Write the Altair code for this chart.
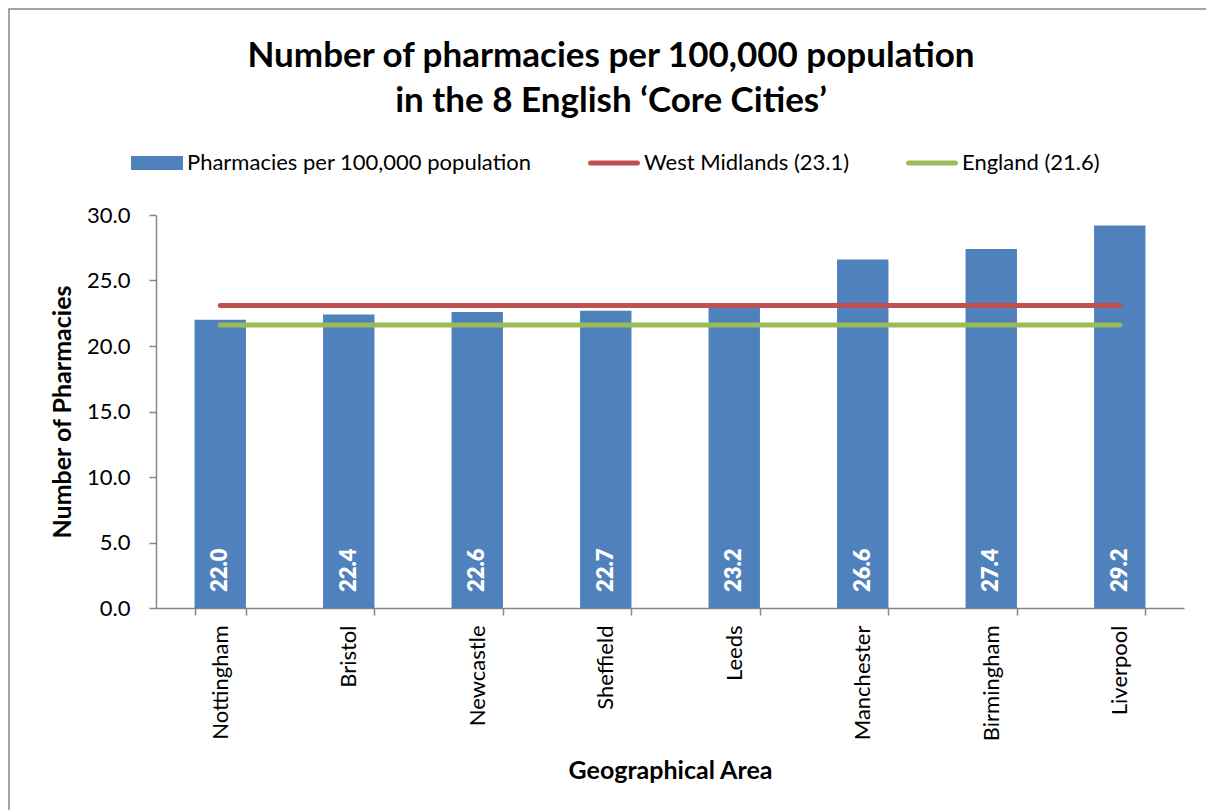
import altair as alt
import pandas as pd

cities = ["Nottingham", "Bristol", "Newcastle", "Sheffield", "Leeds",
          "Manchester", "Birmingham", "Liverpool"]
values = [22.0, 22.4, 22.6, 22.7, 23.2, 26.6, 27.4, 29.2]
west_midlands = 23.1
england = 21.6

series_names = ["Pharmacies per 100,000 population",
                "West Midlands (23.1)", "England (21.6)"]
series_colors = ["#4F81BD", "#C0504D", "#9BBB59"]

bars_df = pd.DataFrame({"city": cities, "value": values})
wm_df = pd.DataFrame({"city": cities, "value": [west_midlands] * len(cities)})
en_df = pd.DataFrame({"city": cities, "value": [england] * len(cities)})
legend_df = pd.DataFrame({"series": series_names})
frame_df = pd.DataFrame({"k": [0]})

FONT = "Lato"
AXIS_GREY = "#868686"
W, H = 1028, 393

x_scale = alt.Scale(domain=cities, paddingInner=0.6, paddingOuter=0.3)
y_scale = alt.Scale(domain=[0, 30])

bar_path = "M-1,-0.27H1V0.27H-1Z"
line_path = "M-0.9,-0.1H0.9A0.1,0.1 0 0 1 0.9,0.1H-0.9A0.1,0.1 0 0 1 -0.9,-0.1Z"


def make_legend():
    return alt.Legend(
        title=None, orient="none", direction="horizontal",
        legendX=-25, legendY=-78, padding=0,
        symbolSize=2704, columnPadding=56, labelOffset=4, labelLimit=500,
        labelFont=FONT, labelFontSize=22, labelColor="black",
        symbolStrokeWidth=0,
    )


legend_layer = alt.Chart(legend_df).transform_filter("false").mark_point(
    filled=True, opacity=1
).encode(
    color=alt.Color("series:N",
                    scale=alt.Scale(domain=series_names, range=series_colors),
                    legend=make_legend()),
    shape=alt.Shape("series:N",
                    scale=alt.Scale(domain=series_names,
                                    range=[bar_path, line_path, line_path]),
                    legend=make_legend()),
)

bars = alt.Chart(bars_df).mark_bar(color="#4F81BD").encode(
    x=alt.X("city:N", scale=x_scale, sort=cities,
            axis=alt.Axis(title="Geographical Area", labelAngle=-90,
                          tickBand="extent", labelAlign="right",
                          labelBaseline="middle", labelPadding=10,
                          titlePadding=18)),
    y=alt.Y("value:Q", scale=y_scale,
            axis=alt.Axis(title="Number of Pharmacies", values=[0, 5, 10, 15, 20, 25, 30],
                          format=".1f", labelPadding=19, titlePadding=11)),
)

labels = alt.Chart(bars_df).mark_text(
    angle=270, align="left", baseline="middle", dx=16,
    color="white", font=FONT, fontWeight=800, fontSize=22,
).encode(
    x=alt.X("city:N", scale=x_scale, sort=cities),
    y=alt.datum(0),
    text=alt.Text("value:Q", format=".1f"),
)

wm_line = alt.Chart(wm_df).mark_line(
    color="#C0504D", strokeWidth=5, strokeCap="round"
).encode(
    x=alt.X("city:N", scale=x_scale, sort=cities),
    y=alt.Y("value:Q", scale=y_scale),
)

en_line = alt.Chart(en_df).mark_line(
    color="#9BBB59", strokeWidth=5, strokeCap="round"
).encode(
    x=alt.X("city:N", scale=x_scale, sort=cities),
    y=alt.Y("value:Q", scale=y_scale),
)

frame = alt.Chart(frame_df).mark_rect(
    fillOpacity=0, stroke=AXIS_GREY, strokeWidth=1.5
).encode(
    x=alt.value(-147), y=alt.value(-206),
    x2=alt.value(1206 - 156 + 20), y2=alt.value(810 - 215 + 20),
)

chart = alt.layer(frame, bars, labels, wm_line, en_line, legend_layer).properties(
    width=W, height=H,
    autosize=alt.AutoSizeParams(type="none"),
    padding={"left": 156, "top": 215, "right": 22, "bottom": 202},
    title=alt.TitleParams(
        text=["Number of pharmacies per 100,000 population",
              "in the 8 English \u2018Core Cities\u2019"],
        font=FONT, fontSize=35, fontWeight="bold", color="black",
        anchor="middle", frame="group", dx=-59, dy=111, lineHeight=45, offset=0,
    ),
).configure_view(stroke=None).configure_axis(
    domainColor=AXIS_GREY, tickColor=AXIS_GREY, domainWidth=1.5, tickWidth=1.5,
    tickSize=7, grid=False, labelFont=FONT, labelFontSize=22, labelColor="black",
    titleFont=FONT, titleFontSize=25, titleFontWeight="bold", titleColor="black",
)

chart.save("out.html", embed_options={"renderer": "svg", "actions": False})
